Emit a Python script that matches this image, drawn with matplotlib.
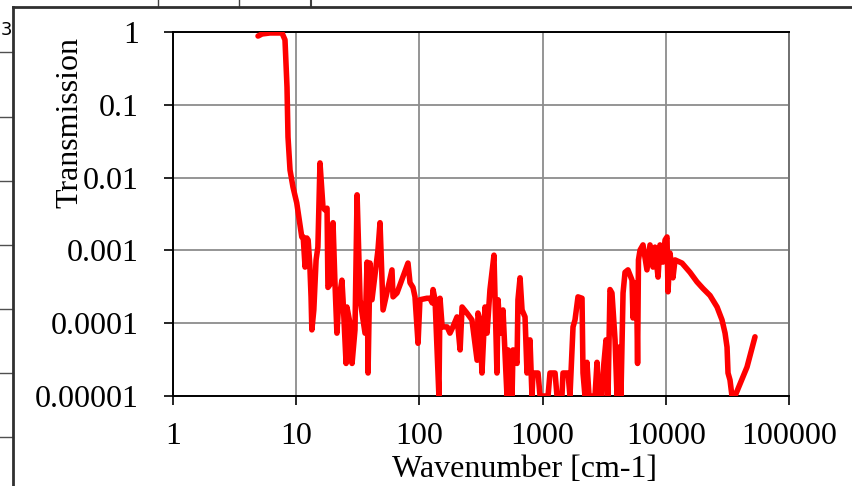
import matplotlib
matplotlib.use("Agg")
import matplotlib.pyplot as plt
from matplotlib.lines import Line2D

plt.rcParams['font.family'] = ['Liberation Serif', 'DejaVu Serif']

# transmission spectrum, wavenumber in cm-1
wavenumber = [
    4.9, 5.28, 6.13, 7.67, 8.11, 8.42, 8.58, 8.91, 9.42, 10.1,
    10.7, 11.1, 11.4, 11.8, 12.2, 12.5, 12.9, 13.2, 13.4, 13.9,
    14.5, 15.0, 15.6, 16.5, 17.1, 17.8, 18.1, 18.8, 19.9, 20.6,
    21.4, 22.2, 23.5, 24.0, 25.4, 25.8, 27.3, 28.4, 30.0, 31.2,
    33.0, 36.2, 37.6, 38.3, 39.7, 41.2, 46.1, 47.9, 50.7, 59.9,
    61.1, 65.8, 80.8, 83.9, 88.7, 92.1, 97.5, 101, 115, 122,
    127, 129, 134, 144, 147, 153, 168, 177, 187, 202,
    214, 222, 243, 267, 294, 299, 310, 322, 341, 354,
    374, 403, 426, 435, 451, 477, 514, 524, 565, 575,
    620, 631, 656, 681, 720, 747, 790, 820, 836, 918,
    953, 1107, 1148, 1262, 1309, 1436, 1464, 1607, 1668, 1766,
    1833, 1938, 2089, 2128, 2208, 2291, 2381, 2663, 2765, 2818,
    3034, 3093, 3272, 3397, 3524, 3656, 3873, 4018, 4169, 4325,
    4498, 4667, 4932, 5321, 5420, 5623, 5834, 5900, 6000, 6180,
    6531, 7031, 7447, 7870, 8166, 8650, 8974, 9484, 9860, 10230,
    10420, 10810, 11430, 11880, 13530, 15710, 17900, 20030, 22850, 26060,
    28590, 30270, 31410, 31990, 33190, 34440, 36480, 45630, 52970,
]
transmission = [
    0.88, 0.94, 0.97, 0.97, 0.78, 0.176, 0.036, 0.0127, 0.0074, 0.0045,
    0.0023, 0.00153, 0.00153, 0.00059, 0.00148, 0.00139, 0.00063, 0.00023, 8.1e-5, 1.52e-4,
    7.4e-4, 1.11e-3, 0.0159, 0.0039, 0.0036, 0.0038, 3.1e-4, 3.4e-4, 0.0024, 3.9e-4,
    7.3e-5, 2.1e-4, 3.9e-4, 2.1e-4, 2.8e-5, 1.67e-4, 1.01e-4, 2.8e-5, 8.1e-5, 0.0058,
    2.1e-4, 7.3e-5, 6.9e-4, 2.07e-5, 6.7e-4, 2.1e-4, 1.01e-3, 0.0024, 1.52e-4, 5.4e-4,
    2.3e-4, 2.6e-4, 6.7e-4, 3.6e-4, 3.1e-4, 2.3e-4, 5.3e-5, 2.1e-4, 2.2e-4, 2.2e-4,
    1.9e-4, 2.9e-4, 2.1e-4, 1e-5, 2.2e-4, 8.9e-5, 8.9e-5, 7.3e-5, 8.9e-5, 1.22e-4,
    4.3e-5, 1.67e-4, 1.38e-4, 1.11e-4, 3.1e-5, 1.38e-4, 1.11e-4, 2.07e-5, 1.67e-4, 7.3e-5,
    2.9e-4, 8.6e-4, 2.07e-5, 2.1e-4, 7.3e-5, 1.52e-4, 1e-5, 4.3e-5, 1e-5, 4.3e-5,
    2.8e-5, 2.1e-4, 4.2e-4, 1.52e-4, 1.22e-4, 2.07e-5, 5.9e-5, 1e-5, 2.07e-5, 2.07e-5,
    1e-5, 1e-5, 2.07e-5, 2.07e-5, 1e-5, 1e-5, 2.07e-5, 2.07e-5, 1e-5, 8.9e-5,
    1.11e-4, 2.3e-4, 2.2e-4, 2.07e-5, 1e-5, 2.9e-5, 1e-5, 1e-5, 2.9e-5, 1e-5,
    1e-5, 2.07e-5, 5.9e-5, 1e-5, 2.9e-4, 2.6e-4, 5.9e-5, 1e-5, 4.7e-5, 1e-5,
    2.6e-4, 5.0e-4, 5.4e-4, 3.9e-4, 1.18e-4, 3.6e-4, 1.22e-4, 2.8e-5, 7.4e-4, 1.01e-3,
    1.19e-3, 5.4e-4, 1.19e-3, 5.9e-4, 1.11e-3, 4.3e-4, 1.19e-3, 6.9e-4, 1.39e-3, 1.53e-3,
    2.7e-4, 9.2e-4, 4.2e-4, 7.4e-4, 6.7e-4, 5.0e-4, 3.7e-4, 3.0e-4, 2.4e-4, 1.67e-4,
    1.11e-4, 7.3e-5, 4.7e-5, 2.07e-5, 1.66e-5, 1e-5, 1e-5, 2.5e-5, 6.5e-5,
]

x_ticks = [1, 10, 100, 1000, 10000, 100000]
x_tick_labels = ["1", "10", "100", "1000", "10000", "100000"]
y_ticks = [1e-5, 1e-4, 1e-3, 1e-2, 1e-1, 1]
y_tick_labels = ["0.00001", "0.0001", "0.001", "0.01", "0.1", "1"]

W, H = 852, 486
fig = plt.figure(figsize=(W / 100, H / 100), dpi=100)


def fx(px):
    return px / W


def fy(py):
    return 1 - py / H


# worksheet cells behind the chart object
for y in [52, 117, 181, 245, 309, 373, 437]:
    fig.add_artist(Line2D([0, fx(13)], [fy(y), fy(y)], color="#505050", lw=1))
for x, lw in [(158, 1), (239, 1), (311, 1.5)]:
    fig.add_artist(Line2D([fx(x), fx(x)], [1, fy(7)], color="#404040", lw=lw))
fig.text(fx(6), fy(30), "3", family="DejaVu Sans", fontsize=13,
         ha="center", va="center")
# chart frame
fig.add_artist(Line2D([fx(13), fx(13)], [0, fy(7)], color="#303030", lw=2))
fig.add_artist(Line2D([fx(13), 1], [fy(7), fy(7)], color="#303030", lw=2))

ax = fig.add_axes([fx(173), fy(396), (789 - 173) / W, (396 - 32) / H])
ax.plot(wavenumber, transmission, color="#ff0000", lw=4.0,
        solid_joinstyle="round", solid_capstyle="round", zorder=3)

ax.set_xscale("log")
ax.set_yscale("log")
ax.set_xlim(1, 100000)
ax.set_ylim(1e-5, 1)
ax.set_xticks(x_ticks)
ax.set_xticklabels(x_tick_labels)
ax.set_yticks(y_ticks)
ax.set_yticklabels(y_tick_labels)
ax.minorticks_off()
ax.tick_params(axis="both", direction="out", length=6.5, width=1.2,
               labelsize=23, color="black")
ax.tick_params(axis="x", pad=12)
ax.tick_params(axis="y", pad=18)

ax.grid(True, color="#8c8c8c", lw=1.3)
ax.set_axisbelow(True)
for side in ["left", "bottom", "top"]:
    ax.spines[side].set_color("black")
    ax.spines[side].set_linewidth(1.4)
ax.spines["right"].set_color("#707070")
ax.spines["right"].set_linewidth(1.4)

fig.text(fx(70), fy(123), "Transmission", rotation=90, fontsize=23,
         ha="center", va="center")
fig.text(fx(525), fy(469), "Wavenumber [cm-1]", fontsize=23,
         ha="center", va="center")

fig.savefig("out.png", dpi=100)
